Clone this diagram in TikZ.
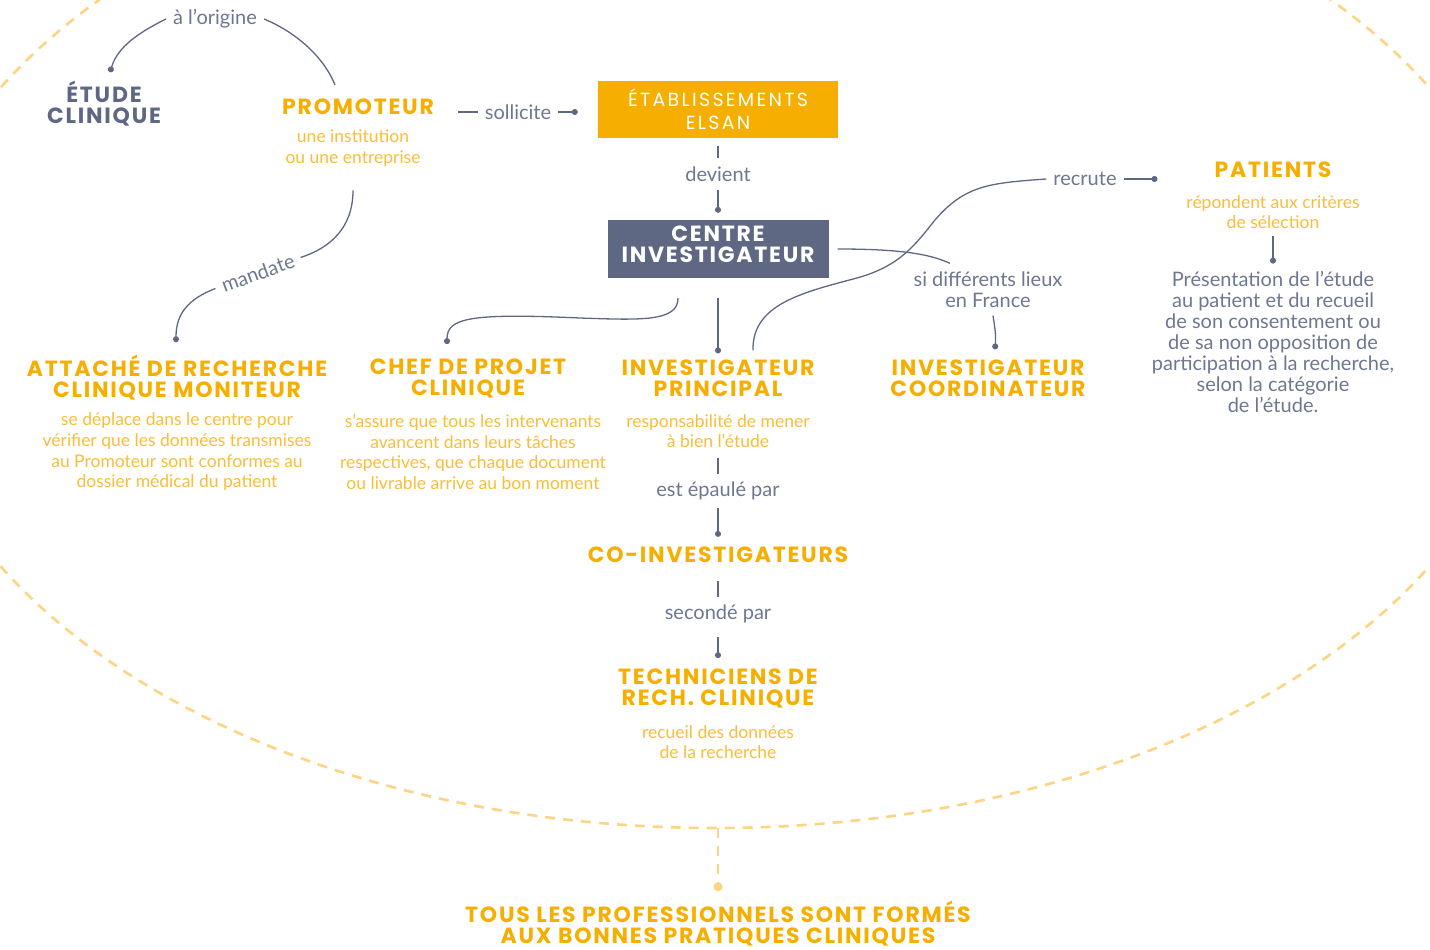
\documentclass[tikz,border=0pt]{standalone}
\usepackage{fontspec}
\setmainfont{Lato}
\newfontfamily\titrefont{Poppins}[LetterSpace=8]
\newfontfamily\boitefont{Poppins}[LetterSpace=12]
\usetikzlibrary{arrows.meta}

\definecolor{jaune}{HTML}{F6AF00}
\definecolor{jauneclair}{HTML}{F9BD3A}
\definecolor{pointille}{HTML}{FCD483}
\definecolor{ardoise}{HTML}{5E6882}
\definecolor{grisbleu}{HTML}{6E7791}

\tikzset{
  titre/.style={font=\titrefont\bfseries\fontsize{22}{21}\selectfont, text=jaune, align=center, inner sep=2pt},
  sous/.style={font=\fontsize{17.5}{20.7}\selectfont, text=jauneclair, align=center, inner sep=2pt},
  verbe/.style={font=\fontsize{20}{21}\selectfont, text=grisbleu, align=center, inner xsep=7pt, inner ysep=8pt},
  texte/.style={font=\fontsize{20}{21}\selectfont, text=grisbleu, align=center, inner sep=2pt},
  boite/.style={text=white, align=center, inner sep=0pt},
  lien/.style={draw=ardoise, line width=1.3pt},
  point/.style={-{Circle[length=6pt]}},
  tirets/.style={draw=pointille, line width=2.6pt, dash pattern=on 10pt off 8pt},
}

\begin{document}
\begin{tikzpicture}[x=1pt,y=-1pt]
  \useasboundingbox (0,0) rectangle (1430,950);
  \clip (0,0) rectangle (1430,950);

  % ellipse en pointillés
  \draw[tirets] (715,327) ellipse [x radius=813pt, y radius=501pt];
  \coordinate (bord) at (718,828);

  % en-tête
  \node[titre, text=ardoise] (etude) at (104,104) {ÉTUDE\\CLINIQUE};
  \node[verbe] (origine) at (215,19) {à l’origine};
  \node[titre] (promoteur) at (358,107) {PROMOTEUR};
  \node[sous] (promsub) at (353,148) {une institution\\ou une entreprise};
  \node[verbe] (sollicite) at (518,112) {sollicite};
  \node[boite, fill=jaune, minimum width=240pt, minimum height=57pt,
        font=\boitefont\fontsize{19}{23}\selectfont] (elsan) at (718,109.5) {ÉTABLISSEMENTS\\ELSAN};
  \node[verbe] (devient) at (718,174) {devient};
  \node[boite, fill=ardoise, minimum width=221pt, minimum height=58pt,
        font=\titrefont\bfseries\fontsize{22}{21}\selectfont] (centre) at (718,249) {CENTRE\\INVESTIGATEUR\rule[-9pt]{0pt}{9pt}};

  % rangée des acteurs
  \node[titre] (arc) at (177,378) {ATTACHÉ DE RECHERCHE\\CLINIQUE MONITEUR};
  \node[sous] (arcsub) at (177,452) {se déplace dans le centre pour\\vérifier que les données transmises\\au Promoteur sont conformes au\\dossier médical du patient};
  \node[titre] (chef) at (468,378) {CHEF DE PROJET\\CLINIQUE};
  \node[sous] (chefsub) at (473,452) {s’assure que tous les intervenants\\avancent dans leurs tâches\\respectives, que chaque document\\ou livrable arrive au bon moment};
  \node[titre] (ip) at (718,378) {INVESTIGATEUR\\PRINCIPAL};
  \node[sous] (ipsub) at (718,431) {responsabilité de mener\\à bien l’étude};
  \node[verbe] (lieux) at (988,289.5) {si différents lieux\\en France};
  \node[titre] (coord) at (988,378) {INVESTIGATEUR\\COORDINATEUR};
  \node[verbe] (recrute) at (1085,179) {recrute};
  \node[titre] (patients) at (1273,170) {PATIENTS};
  \node[sous] (patsub) at (1273,212) {répondent aux critères\\de sélection};
  \node[texte] (presentation) at (1273,341.5) {Présentation de l’étude\\au patient et du recueil\\de son consentement ou\\de sa non opposition de\\participation à la recherche,\\selon la catégorie\\de l’étude.};
  \node[verbe, rotate=20] (mandate) at (258,273) {mandate};

  % colonne centrale
  \node[verbe] (epaule) at (718,491) {est épaulé par};
  \node[titre] (coinv) at (718,555) {CO-INVESTIGATEURS};
  \node[verbe] (seconde) at (718,614) {secondé par};
  \node[titre] (tech) at (718,688) {TECHNICIENS DE\\RECH. CLINIQUE};
  \node[sous] (techsub) at (718,742) {recueil des données\\de la recherche};

  % pied
  \node[titre] (tous) at (718,924) {TOUS LES PROFESSIONNELS SONT FORMÉS\\AUX BONNES PRATIQUES CLINIQUES};

  % liens
  \draw[lien, {Circle[length=6pt]}-] ([xshift=6pt,yshift=7pt]etude.north)
    .. controls (118,46) and (140,32) .. (origine.west);
  \draw[lien] (origine.east) .. controls (300,34) and (325,60) .. ([xshift=-23pt,yshift=12pt]promoteur.north);
  \draw[lien] ([xshift=22pt]promoteur.east |- sollicite.west) -- (sollicite.west);
  \draw[lien, point] (sollicite.east) -- ([xshift=-20pt]elsan.west |- sollicite.east);
  \draw[lien, shorten <=8pt] (elsan.south) -- (devient.north);
  \draw[lien, point, shorten >=7pt] (devient.south) -- (centre.north);
  \draw[lien] ([yshift=-22pt]promsub.south) .. controls (353,228) and (330,248) .. (mandate.east);
  \draw[lien, point] (mandate.west) .. controls (188,299) and (176,314) .. ([xshift=-1pt,yshift=11pt]arc.north);
  \draw[lien, point] ([xshift=-40pt,yshift=-20pt]centre.south)
    .. controls (678,322) and (640,320) .. (580,318)
    .. controls (470,313) and (447,318) .. ([xshift=-21pt,yshift=12pt]chef.north);
  \draw[lien, point] ([yshift=-20pt]centre.south) -- ([yshift=4pt]ip.north);
  \draw[lien] ([xshift=9pt]centre.east) .. controls (900,249) and (930,254) .. ([xshift=-38pt]lieux.north);
  \draw[lien, point] ([xshift=5pt]lieux.south) .. controls (995,328) and (996,335) .. ([xshift=7pt,yshift=8pt]coord.north);
  \draw[lien] ([xshift=35pt,yshift=7pt]ip.north)
    .. controls (752,305) and (800,293) .. (857,278)
    .. controls (900,266) and (915,245) .. (935,220)
    .. controls (965,185) and (990,183) .. (recrute.west);
  \draw[lien, point] (recrute.east) -- ([xshift=-55pt]patients.west |- recrute.east);
  \draw[lien, point, shorten <=5pt] (patsub.south) -- ([yshift=5pt]presentation.north);
  \draw[lien, shorten <=8pt] (ipsub.south) -- (epaule.north);
  \draw[lien, point] (epaule.south) -- ([yshift=8pt]coinv.north);
  \draw[lien, shorten <=16pt] (coinv.south) -- (seconde.north);
  \draw[lien, point, shorten <=6pt] (seconde.south) -- ([yshift=8pt]tech.north);
  \draw[tirets, -{Circle[length=9pt]}] (bord) -- ([yshift=8pt]tous.north);
\end{tikzpicture}
\end{document}
